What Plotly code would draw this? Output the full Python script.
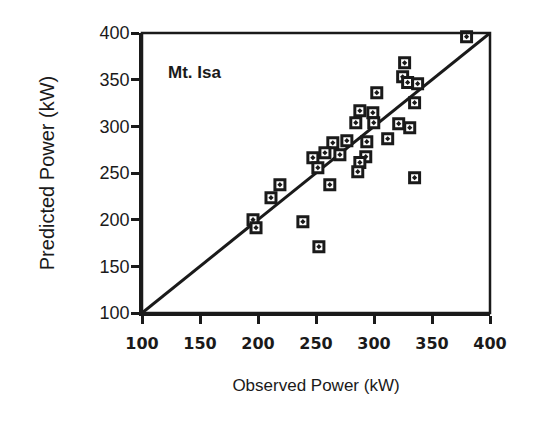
import plotly.graph_objects as go

observed = [379.8, 326.4, 324.7, 329.0, 337.6, 335.0, 302.4, 287.8, 299.0, 284.3,
            299.8, 321.3, 330.8, 311.8, 293.8, 276.6, 264.5, 257.7, 270.6, 292.9,
            247.3, 287.8, 251.6, 286.0, 261.9, 335.0, 218.9, 211.2, 195.7, 198.3,
            238.7, 252.5]
predicted = [396.0, 368.0, 353.0, 347.0, 345.7, 325.3, 336.0, 316.7, 314.6, 303.9,
             303.9, 302.8, 298.5, 286.7, 283.5, 284.6, 282.4, 271.7, 269.6, 267.5,
             266.4, 261.3, 255.7, 251.4, 237.5, 245.0, 237.5, 223.5, 200.0, 191.4,
             197.8, 171.0]
line_ends = [100, 400]
axis_range = [100, 400]
tick_start = 100
tick_step = 50
minor_step = 25

fig = go.Figure()
fig.add_trace(go.Scatter(x=line_ends, y=line_ends, mode="lines",
                         line=dict(color="#1a1a1a", width=3), showlegend=False))
fig.add_trace(go.Scatter(x=observed, y=predicted, mode="markers",
                         marker=dict(symbol="square-dot", size=10, color="white",
                                     line=dict(color="#1a1a1a", width=3)),
                         showlegend=False, cliponaxis=False))

fig.add_annotation(x=0.07, y=0.86, xref="paper", yref="paper", text="<b>Mt. Isa</b>",
                   showarrow=False, xanchor="left", yanchor="middle",
                   font=dict(family="Liberation Sans, Arial", size=17, color="#1a1a1a"))

fig.add_shape(type="rect", xref="paper", yref="paper", x0=0, y0=0, x1=1, y1=1,
              line=dict(color="#1a1a1a", width=2.5), layer="above")

major = dict(range=axis_range, tickmode="linear", tick0=tick_start, dtick=tick_step,
             showgrid=False, zeroline=False, showline=True, linecolor="#1a1a1a",
             linewidth=2.5, ticks="outside", ticklen=8, tickwidth=2.5, tickcolor="#1a1a1a")
minor_ax = dict(range=axis_range, tickmode="linear", tick0=tick_start, dtick=minor_step,
                showgrid=False, zeroline=False, showline=False, ticks="outside",
                ticklen=4, tickwidth=2, tickcolor="#1a1a1a", showticklabels=False)

fig.update_layout(
    width=538, height=426,
    margin=dict(l=142, r=48, t=33, b=113),
    paper_bgcolor="white", plot_bgcolor="white",
    font=dict(family="Liberation Sans, Arial", color="#1a1a1a"),
    xaxis=dict(**major, ticklabelstandoff=6,
               tickfont=dict(family="DejaVu Sans", size=16, weight="bold", color="#1a1a1a"),
               title=dict(text="Observed Power (kW)", standoff=28,
                          font=dict(family="Liberation Sans, Arial", size=17))),
    yaxis=dict(**major, ticklabelstandoff=-2,
               tickfont=dict(family="Liberation Sans, Arial", size=18, color="#1a1a1a"),
               title=dict(text="Predicted Power (kW)", standoff=40,
                          font=dict(family="Liberation Sans, Arial", size=20))),
    xaxis2=dict(**minor_ax, overlaying="x", side="bottom", anchor="y"),
    yaxis2=dict(**minor_ax, overlaying="y", side="left", anchor="x"),
)

fig.write_html("out.html")
